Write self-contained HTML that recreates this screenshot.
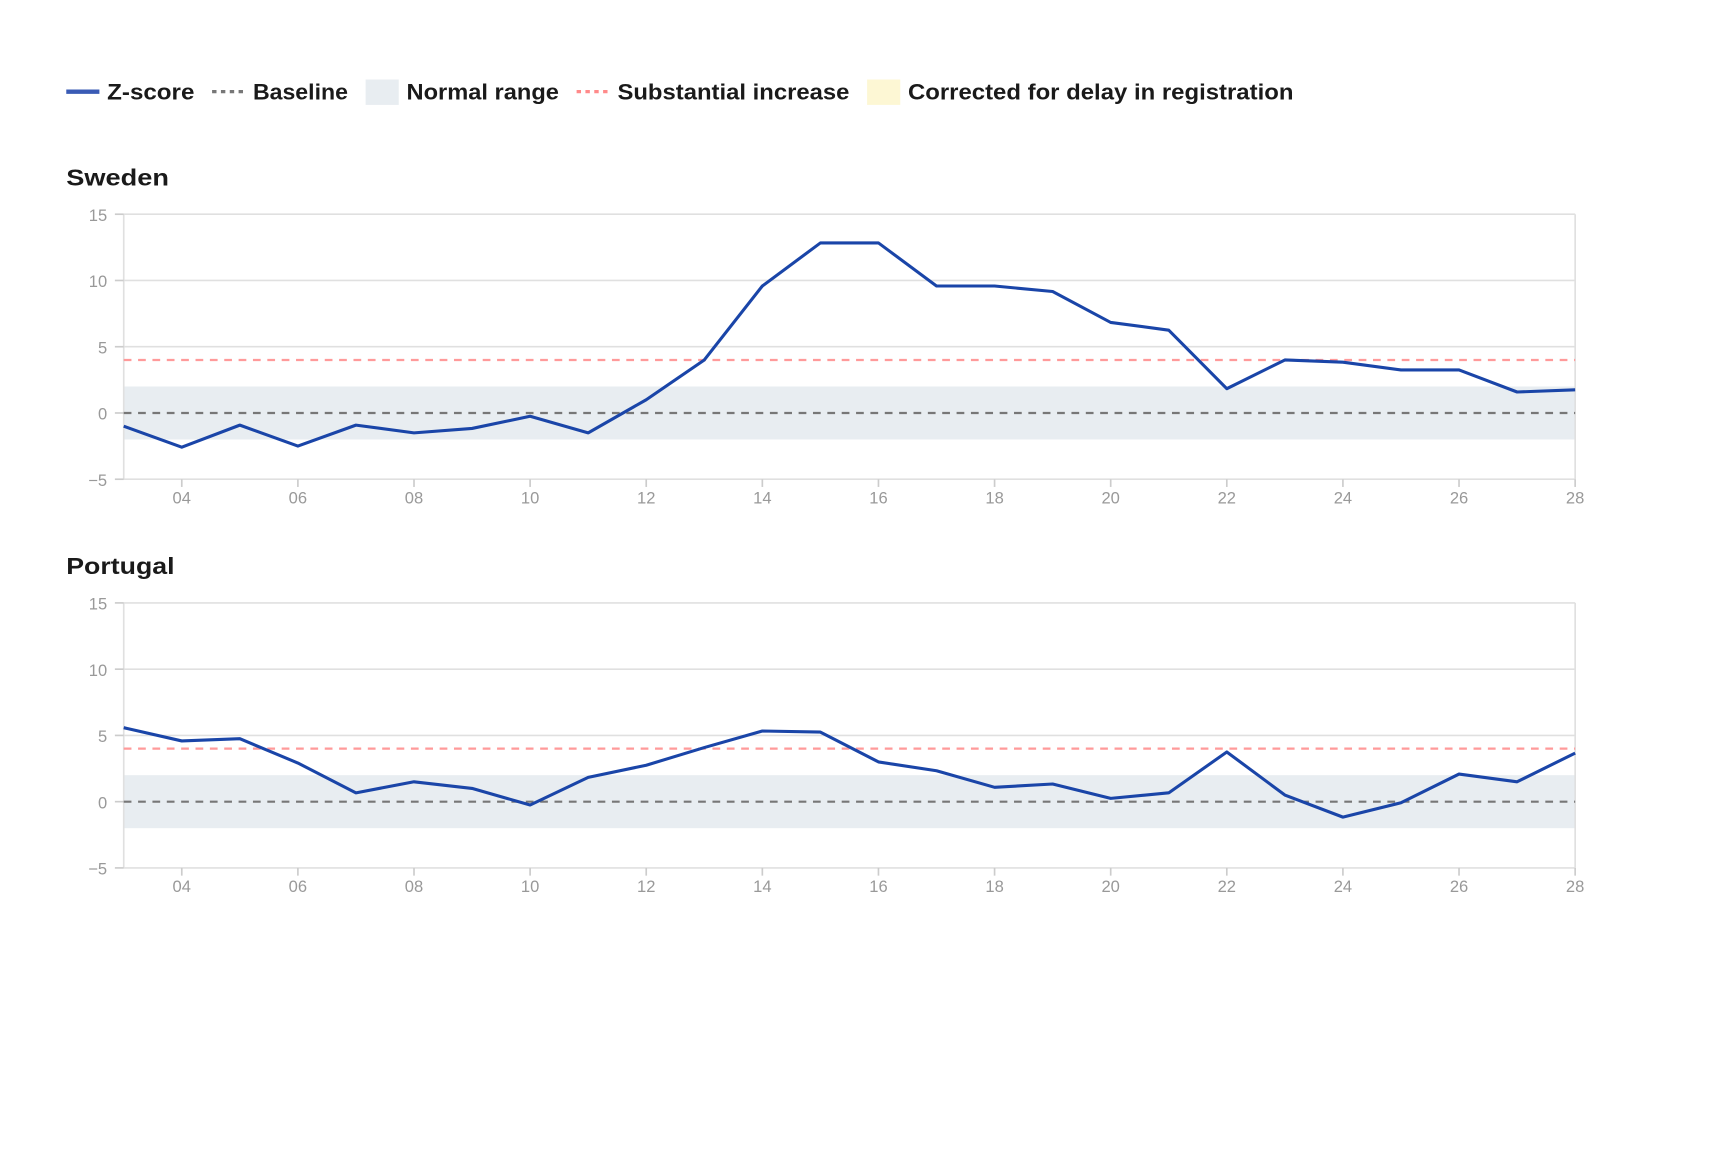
<!DOCTYPE html>
<html><head><meta charset="utf-8"><style>html,body{margin:0;padding:0;background:#fff}svg{display:block}</style></head>
<body>
<svg width="1732" height="1176" viewBox="0 0 1568 1065" preserveAspectRatio="none" xmlns="http://www.w3.org/2000/svg" font-family="Liberation Sans, sans-serif">
<rect width="1568" height="1065" fill="#fff"/>
<!-- legend -->
<g font-size="20" font-weight="bold" fill="#1a1a1a">
<line x1="60" y1="83" x2="90" y2="83" stroke="#3a5bb5" stroke-width="4"/>
<text x="97" y="90" textLength="79" lengthAdjust="spacingAndGlyphs">Z-score</text>
<line x1="192" y1="83" x2="222" y2="83" stroke="#777" stroke-width="3" stroke-dasharray="4,4"/>
<text x="229" y="90" textLength="86" lengthAdjust="spacingAndGlyphs">Baseline</text>
<rect x="331" y="72" width="30" height="23" fill="#e8edf1"/>
<text x="368" y="90" textLength="138" lengthAdjust="spacingAndGlyphs">Normal range</text>
<line x1="522" y1="83" x2="552" y2="83" stroke="#ff8a8a" stroke-width="3" stroke-dasharray="4,4"/>
<text x="559" y="90" textLength="210" lengthAdjust="spacingAndGlyphs">Substantial increase</text>
<rect x="785" y="72" width="30" height="23" fill="#fdf7d4"/>
<text x="822" y="90" textLength="349" lengthAdjust="spacingAndGlyphs">Corrected for delay in registration</text>
</g>

<!-- Sweden -->
<g>
<text x="60" y="168" font-size="21" font-weight="bold" fill="#1a1a1a" textLength="93" lengthAdjust="spacingAndGlyphs">Sweden</text>
<rect x="112" y="350" width="1314" height="48" fill="#e8edf1"/>
<g stroke="#e0e0e0" stroke-width="1.5">
<line x1="112" y1="194" x2="1426" y2="194"/><line x1="112" y1="254" x2="1426" y2="254"/><line x1="112" y1="314" x2="1426" y2="314"/>
<line x1="112" y1="434" x2="1426" y2="434"/><line x1="112" y1="194" x2="112" y2="434"/><line x1="1426" y1="194" x2="1426" y2="434"/>
</g>
<g stroke="#ccc" stroke-width="1.5">
<line x1="104" y1="194" x2="112" y2="194"/><line x1="104" y1="254" x2="112" y2="254"/><line x1="104" y1="314" x2="112" y2="314"/><line x1="104" y1="374" x2="112" y2="374"/><line x1="104" y1="434" x2="112" y2="434"/>
<line x1="164.56" y1="434" x2="164.56" y2="441"/><line x1="269.68" y1="434" x2="269.68" y2="441"/><line x1="374.8" y1="434" x2="374.8" y2="441"/><line x1="479.92" y1="434" x2="479.92" y2="441"/><line x1="585.04" y1="434" x2="585.04" y2="441"/><line x1="690.16" y1="434" x2="690.16" y2="441"/><line x1="795.28" y1="434" x2="795.28" y2="441"/><line x1="900.4" y1="434" x2="900.4" y2="441"/><line x1="1005.52" y1="434" x2="1005.52" y2="441"/><line x1="1110.64" y1="434" x2="1110.64" y2="441"/><line x1="1215.76" y1="434" x2="1215.76" y2="441"/><line x1="1320.88" y1="434" x2="1320.88" y2="441"/><line x1="1426" y1="434" x2="1426" y2="441"/>
</g>
<g font-size="15" fill="#999" text-anchor="end">
<text x="97" y="200">15</text><text x="97" y="260">10</text><text x="97" y="320">5</text><text x="97" y="380">0</text><text x="97" y="440">−5</text>
</g>
<g font-size="15" fill="#999" text-anchor="middle">
<text x="164.56" y="456">04</text><text x="269.68" y="456">06</text><text x="374.8" y="456">08</text><text x="479.92" y="456">10</text><text x="585.04" y="456">12</text><text x="690.16" y="456">14</text><text x="795.28" y="456">16</text><text x="900.4" y="456">18</text><text x="1005.52" y="456">20</text><text x="1110.64" y="456">22</text><text x="1215.76" y="456">24</text><text x="1320.88" y="456">26</text><text x="1426" y="456">28</text>
</g>
<line x1="112" y1="326" x2="1426" y2="326" stroke="#ff9a9a" stroke-width="2" stroke-dasharray="7,6"/>
<line x1="112" y1="374" x2="1426" y2="374" stroke="#777" stroke-width="2" stroke-dasharray="7,6"/>
<polyline fill="none" stroke="#1a45a8" stroke-width="2.8" stroke-linejoin="round" points="112,386 164.56,405 217.12,385 269.68,404 322.24,385 374.8,392 427.36,388 479.92,377 532.48,392 585.04,362 637.6,326 690.16,259 742.72,220 795.28,220 847.84,259 900.4,259 952.96,264 1005.52,292 1058.08,299 1110.64,352 1163.2,326 1215.76,328 1268.32,335 1320.88,335 1373.44,355 1426,353"/>
</g>

<!-- Portugal -->
<g transform="translate(0,352)">
<text x="60" y="168" font-size="21" font-weight="bold" fill="#1a1a1a" textLength="98" lengthAdjust="spacingAndGlyphs">Portugal</text>
<rect x="112" y="350" width="1314" height="48" fill="#e8edf1"/>
<g stroke="#e0e0e0" stroke-width="1.5">
<line x1="112" y1="194" x2="1426" y2="194"/><line x1="112" y1="254" x2="1426" y2="254"/><line x1="112" y1="314" x2="1426" y2="314"/>
<line x1="112" y1="434" x2="1426" y2="434"/><line x1="112" y1="194" x2="112" y2="434"/><line x1="1426" y1="194" x2="1426" y2="434"/>
</g>
<g stroke="#ccc" stroke-width="1.5">
<line x1="104" y1="194" x2="112" y2="194"/><line x1="104" y1="254" x2="112" y2="254"/><line x1="104" y1="314" x2="112" y2="314"/><line x1="104" y1="374" x2="112" y2="374"/><line x1="104" y1="434" x2="112" y2="434"/>
<line x1="164.56" y1="434" x2="164.56" y2="441"/><line x1="269.68" y1="434" x2="269.68" y2="441"/><line x1="374.8" y1="434" x2="374.8" y2="441"/><line x1="479.92" y1="434" x2="479.92" y2="441"/><line x1="585.04" y1="434" x2="585.04" y2="441"/><line x1="690.16" y1="434" x2="690.16" y2="441"/><line x1="795.28" y1="434" x2="795.28" y2="441"/><line x1="900.4" y1="434" x2="900.4" y2="441"/><line x1="1005.52" y1="434" x2="1005.52" y2="441"/><line x1="1110.64" y1="434" x2="1110.64" y2="441"/><line x1="1215.76" y1="434" x2="1215.76" y2="441"/><line x1="1320.88" y1="434" x2="1320.88" y2="441"/><line x1="1426" y1="434" x2="1426" y2="441"/>
</g>
<g font-size="15" fill="#999" text-anchor="end">
<text x="97" y="200">15</text><text x="97" y="260">10</text><text x="97" y="320">5</text><text x="97" y="380">0</text><text x="97" y="440">−5</text>
</g>
<g font-size="15" fill="#999" text-anchor="middle">
<text x="164.56" y="456">04</text><text x="269.68" y="456">06</text><text x="374.8" y="456">08</text><text x="479.92" y="456">10</text><text x="585.04" y="456">12</text><text x="690.16" y="456">14</text><text x="795.28" y="456">16</text><text x="900.4" y="456">18</text><text x="1005.52" y="456">20</text><text x="1110.64" y="456">22</text><text x="1215.76" y="456">24</text><text x="1320.88" y="456">26</text><text x="1426" y="456">28</text>
</g>
<line x1="112" y1="326" x2="1426" y2="326" stroke="#ff9a9a" stroke-width="2" stroke-dasharray="7,6"/>
<line x1="112" y1="374" x2="1426" y2="374" stroke="#777" stroke-width="2" stroke-dasharray="7,6"/>
<polyline fill="none" stroke="#1a45a8" stroke-width="2.8" stroke-linejoin="round" points="112,307 164.56,319 217.12,317 269.68,339 322.24,366 374.8,356 427.36,362 479.92,377 532.48,352 585.04,341 637.6,325 690.16,310 742.72,311 795.28,338 847.84,346 900.4,361 952.96,358 1005.52,371 1058.08,366 1110.64,329 1163.2,368 1215.76,388 1268.32,375 1320.88,349 1373.44,356 1426,330"/>
</g>
</svg>
</body></html>
